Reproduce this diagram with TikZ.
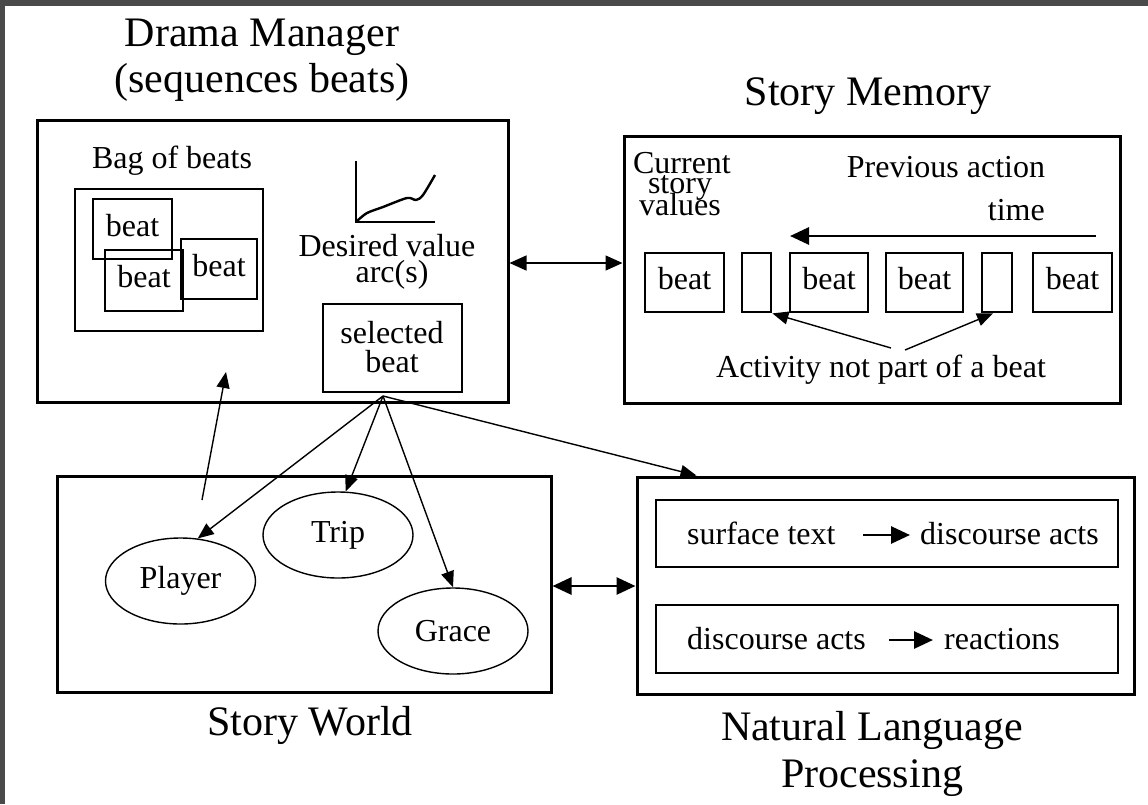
\documentclass[tikz,border=0pt]{standalone}
\usepackage{fontspec}
\setmainfont{Liberation Serif}
\usetikzlibrary{arrows.meta,shapes.geometric}
\definecolor{framegray}{RGB}{74,74,74}
\newcommand{\dmbody}{\fontsize{32}{36}\selectfont}
\newcommand{\dmtitle}{\fontsize{42}{46}\selectfont}
\begin{document}
\begin{tikzpicture}[x=1pt,y=-1pt,
  box/.style={draw, line width=3pt, inner sep=0pt},
  ibox/.style={draw, line width=2.8pt, inner sep=0pt, text height=22pt, text depth=8pt, font=\dmbody},
  ell/.style={draw, ellipse, line width=1.4pt, minimum width=150pt, minimum height=86pt, inner sep=0pt, font=\dmbody},
  txt/.style={inner sep=0pt, anchor=base, font=\dmbody},
  ttl/.style={inner sep=0pt, anchor=base, font=\dmtitle},
  thinarrow/.style={line width=1.4pt, -{Triangle[length=16pt,width=13pt]}},
  thickarrow/.style={line width=2.8pt, -{Triangle[length=19pt,width=17pt]}},
  dbl/.style={line width=1.4pt, {Triangle[length=17pt,width=15pt]}-{Triangle[length=17pt,width=15pt]}},
  dblthick/.style={line width=2.8pt, {Triangle[length=19pt,width=17pt]}-{Triangle[length=19pt,width=17pt]}},
]
\useasboundingbox (0,0) rectangle (1148,804);
\fill[framegray] (0,0) rectangle (1148,804);
\fill[white] (5,6) rectangle (1148,804);

% main boxes
\node[box, minimum width=471pt, minimum height=282pt] (dm) at (272.5,261) {};
\node[box, minimum width=496pt, minimum height=267pt] (sm) at (872,269.5) {};
\node[box, minimum width=494pt, minimum height=216pt] (sw) at (304,584) {};
\node[box, minimum width=497pt, minimum height=217pt] (nlp) at (885.5,585.5) {};

% titles
\node[ttl] (dmt1) at (262,46) {Drama Manager};
\node[ttl] (dmt2) at (262,92) {(sequences beats)};
\node[ttl] (smt) at (868,105) {Story Memory};
\node[ttl] (swt) at (310,735) {Story World};
\node[ttl] (nlpt1) at (872,740) {Natural Language};
\node[ttl] (nlpt2) at (872,787) {Processing};

% drama manager contents
\node[txt] (bagt) at (172,168) {Bag of beats};
\node[box, line width=2.8pt, minimum width=188pt, minimum height=142pt] (bag) at (169,260) {};
\node[ibox, minimum width=79pt, minimum height=60pt] (bb1) at (132.5,229) {beat};
\node[ibox, minimum width=78pt, minimum height=61pt] (bb2) at (144,280.5) {beat};
\node[ibox, minimum width=76pt, minimum height=60pt] (bb3) at (219,269) {beat};

\draw[line width=2.6pt] (356,161) -- (356,223);
\draw[line width=2.6pt] (355,222) -- (435,222);
\draw[line width=2.4pt, line join=round] plot[smooth] coordinates {(357,221) (367,213) (383,207) (407,198) (416,200) (423,195) (435,175)};

\node[txt] (dv1) at (387,256) {Desired value};
\node[txt] (dv2) at (392,282) {arc(s)};
\node[box, line width=2.8pt, minimum width=139pt, minimum height=88pt] (sel) at (392.5,348) {};
\node[txt] (sel1) at (392,343) {selected};
\node[txt] (sel2) at (392,372) {beat};

% story memory contents
\node[txt] (cur1) at (682,173) {Current};
\node[txt] (cur2) at (680,193) {story};
\node[txt] (cur3) at (680,215) {values};
\node[txt] (prev) at (946,177) {Previous action};
\node[txt, anchor=base east] (time) at (1045,220) {time};
\coordinate (t0) at (1096,236);
\coordinate (t1) at (790,236);
\draw[thickarrow] (t0) -- (t1);

\node[ibox, minimum width=79pt, minimum height=59pt] (m1) at (684.5,282.5) {beat};
\node[ibox, minimum width=29pt, minimum height=59pt] (s1) at (756.5,282.5) {};
\node[ibox, minimum width=78pt, minimum height=59pt] (m2) at (829,282.5) {beat};
\node[ibox, minimum width=77pt, minimum height=59pt] (m3) at (924.5,282.5) {beat};
\node[ibox, minimum width=30pt, minimum height=59pt] (s2) at (997,282.5) {};
\node[ibox, minimum width=79pt, minimum height=59pt] (m4) at (1072.5,282.5) {beat};

\node[txt] (act) at (881,377) {Activity not part of a beat};
\coordinate (a1) at (891,348);
\coordinate (a2) at (905,350);
\draw[thinarrow] (a1) -- (s1.south east);
\draw[thinarrow] (a2) -- ([xshift=-4pt]s2.south);

% story world contents
\node[ell] (player) at (180.5,581) {Player};
\node[ell] (trip) at (338,535) {Trip};
\node[ell] (grace) at (453,631) {Grace};

% fan from selected beat
\coordinate (fan) at (383,396);
\draw[thinarrow] (fan) -- (player.68);
\draw[thinarrow] (fan) -- (trip.80);
\draw[thinarrow] (fan) -- (grace.north);
\draw[thinarrow] (fan) -- ([xshift=61pt]nlp.north west);

% up arrow into drama manager
\coordinate (u0) at (202,500);
\coordinate (u1) at (226,372);
\draw[thinarrow] (u0) -- (u1);

% double arrows
\draw[dbl] ([yshift=-2pt]dm.east) -- ([yshift=-2pt]dm.east -| sm.west);
\draw[dblthick] ([yshift=-2pt]sw.east) -- ([yshift=-2pt]sw.east -| nlp.west);

% NLP contents
\node[box, line width=2.8pt, minimum width=462pt, minimum height=67pt] (n1) at (887,533.5) {};
\node[box, line width=2.8pt, minimum width=462pt, minimum height=68pt] (n2) at (887,639) {};
\node[txt, anchor=base west] (st) at (687,544) {surface text};
\node[txt, anchor=base west] (da1) at (920,544) {discourse acts};
\node[txt, anchor=base west] (da2) at (687,649) {discourse acts};
\node[txt, anchor=base west] (re) at (944,649) {reactions};
\draw[thickarrow] ([xshift=27pt,yshift=9pt]st.base east) -- ([xshift=-10pt,yshift=9pt]da1.base west);
\draw[thickarrow] ([xshift=23pt,yshift=9pt]da2.base east) -- ([xshift=-11pt,yshift=9pt]re.base west);
\end{tikzpicture}
\end{document}
